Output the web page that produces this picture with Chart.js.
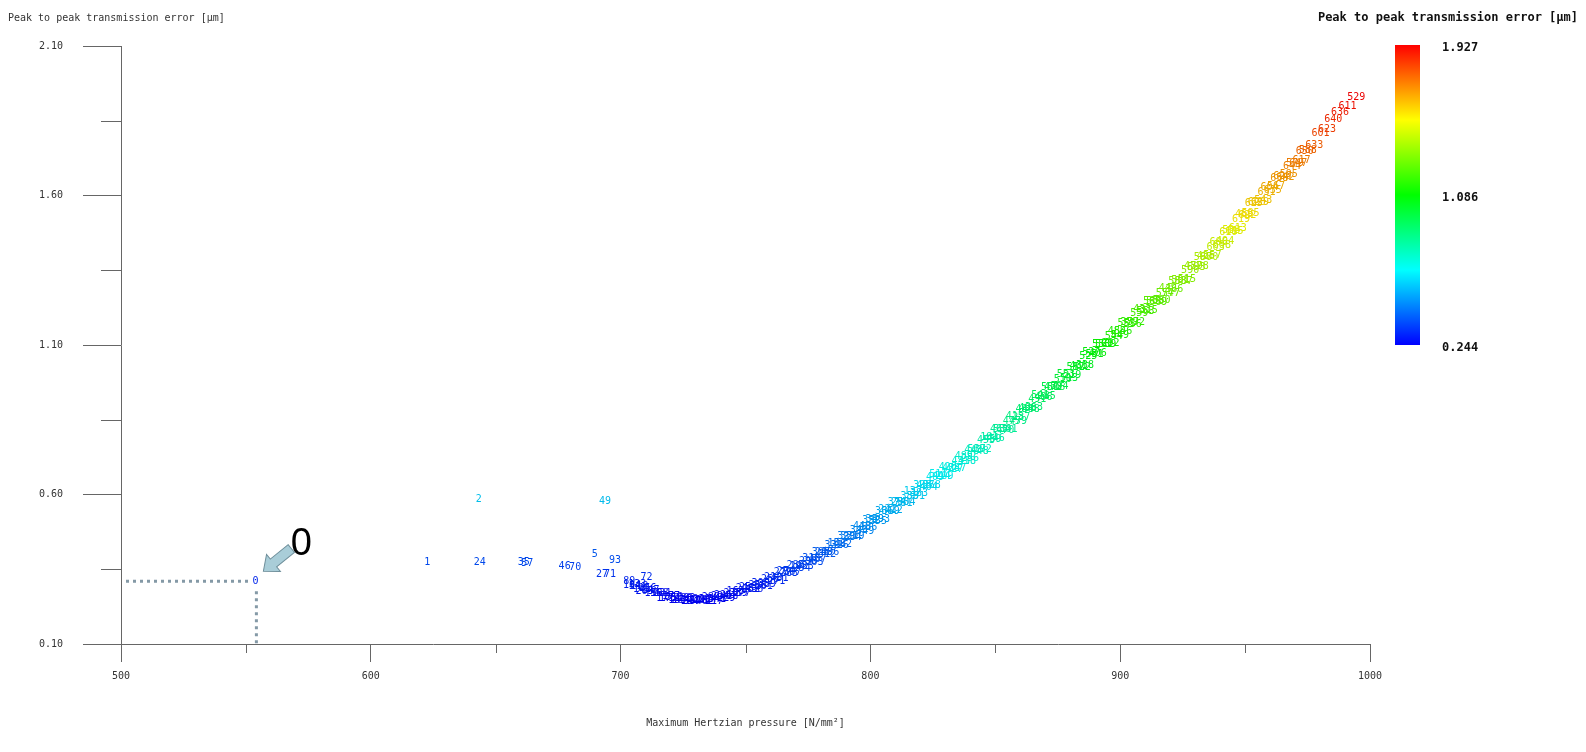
<!DOCTYPE html>
<html>
<head>
<meta charset="utf-8">
<script src="https://cdn.jsdelivr.net/npm/chart.js@4.4.1/dist/chart.umd.min.js"></script>
<style>
  body { margin: 0; background: #fff; }
  #wrap { width: 1586px; height: 752px; position: relative; }
</style>
</head>
<body>
<div id="wrap"><canvas id="te-chart"></canvas></div>
<script>
// ------- data -------
// scattered design points on the left
const looseIds = ["0", "1", "2", "24", "35", "57", "46", "70", "5", "93", "27", "71", "49", "72"];
const loosePressure = [553.8, 622.6, 643.2, 643.6, 661.2, 662.6, 677.6, 681.8, 689.7, 697.8, 692.6, 695.8, 693.8, 710.4];
const looseError = [0.310, 0.374, 0.584, 0.374, 0.372, 0.371, 0.358, 0.356, 0.399, 0.378, 0.334, 0.333, 0.577, 0.322];

// dense band of design points along the curve
const bandIds = ["89", "54", "118", "203", "147", "96", "231", "175", "310", "264", "192", "357", "128", "402", "289", "341",
    "226", "418", "163", "377", "250", "436", "305", "389", "212", "451", "274", "367", "198", "423", "318",
    "467", "243", "396", "152", "482", "331", "279", "440", "186", "359", "493", "222", "412", "296", "504",
    "137", "383", "457", "268", "511", "209", "428", "347", "489", "256", "519", "372", "181", "446", "534",
    "301", "415", "237", "498", "363", "541", "285", "472", "394", "553", "219", "461", "338", "527", "406",
    "561", "292", "485", "546", "379", "572", "433", "315", "508", "580", "449", "366", "591", "515", "477",
    "598", "425", "557", "606", "494", "538", "613", "469", "585", "620", "543", "604", "567", "626", "595",
    "579", "617", "588", "633", "601", "623", "640", "636", "611", "529"];
const bandPressure = [703.5, 705.8, 707.5, 709.6, 712.0, 714.3, 716.8, 719.0, 721.5, 723.9, 726.4, 728.8, 731.2, 733.7, 736.1, 738.6,
    741.0, 743.5, 746.0, 748.4, 751.0, 753.5, 756.0, 758.6, 761.0, 763.6, 766.1, 768.7, 771.2, 773.7, 776.3,
    778.8, 781.3, 783.9, 786.4, 789.0, 791.5, 794.0, 796.6, 799.1, 801.7, 804.2, 806.8, 809.3, 811.9, 814.4,
    817.0, 819.5, 822.1, 824.6, 827.2, 829.7, 832.3, 834.8, 837.4, 839.9, 842.5, 845.0, 847.6, 850.2, 852.7,
    855.3, 857.8, 860.4, 862.9, 865.5, 868.0, 870.6, 873.1, 875.7, 878.2, 880.8, 883.3, 885.9, 888.4, 891.0,
    893.5, 896.1, 898.6, 901.2, 903.7, 906.3, 908.8, 911.4, 913.9, 916.5, 919.0, 921.6, 924.1, 926.7, 929.2,
    931.8, 934.3, 936.9, 939.4, 942.0, 944.5, 947.1, 949.6, 952.2, 954.7, 957.3, 959.8, 962.4, 964.9, 967.5,
    970.0, 972.6, 975.1, 977.7, 980.2, 982.8, 985.3, 988.0, 991.0, 994.5];
const bandError = [0.309, 0.294, 0.292, 0.275, 0.280, 0.268, 0.270, 0.252, 0.257, 0.246, 0.252, 0.244, 0.247, 0.244, 0.255, 0.248,
    0.262, 0.258, 0.275, 0.270, 0.288, 0.284, 0.301, 0.298, 0.322, 0.320, 0.344, 0.339, 0.360, 0.358, 0.386,
    0.384, 0.406, 0.405, 0.437, 0.434, 0.459, 0.460, 0.492, 0.490, 0.516, 0.516, 0.551, 0.548, 0.573, 0.572,
    0.609, 0.605, 0.631, 0.630, 0.668, 0.661, 0.688, 0.687, 0.726, 0.721, 0.751, 0.751, 0.792, 0.788, 0.817,
    0.819, 0.861, 0.857, 0.888, 0.890, 0.931, 0.928, 0.959, 0.960, 1.002, 0.999, 1.030, 1.032, 1.074, 1.072,
    1.103, 1.105, 1.147, 1.144, 1.175, 1.177, 1.219, 1.216, 1.246, 1.248, 1.289, 1.285, 1.317, 1.321, 1.364,
    1.362, 1.395, 1.399, 1.444, 1.446, 1.482, 1.489, 1.537, 1.540, 1.576, 1.584, 1.627, 1.630, 1.664, 1.670,
    1.708, 1.716, 1.752, 1.766, 1.806, 1.822, 1.855, 1.878, 1.898, 1.927];

// more points filling the band (they overlap in the picture)
const fillIds = ["104", "133", "141", "156", "159", "168", "171", "177", "183", "188",
    "194", "201", "206", "214", "217", "224", "229", "233", "239", "246",
    "252", "258", "261", "266", "271", "277", "283", "287", "294", "298",
    "303", "308", "312", "321", "326", "329", "334", "343", "349", "352",
    "355", "361", "369", "374", "381", "386", "391", "398", "404", "409",
    "414", "420", "427", "431", "438", "443", "448", "453", "459", "463",
    "470", "475", "479", "484", "488", "491", "496", "501", "506", "510",
    "513", "517", "522", "525", "531", "536", "539", "544", "549", "551",
    "556", "559", "563", "565", "569", "574", "577", "583", "587", "590",
    "593", "597", "600", "603", "608", "610", "615", "619", "622", "625",
    "629", "631", "635", "638", "642", "644", "647", "650"];
const fillPressure = [704.6, 706.7, 708.6, 710.8, 713.2, 715.6, 717.9, 720.2, 722.7, 725.2,
    727.6, 730.0, 732.5, 734.9, 737.4, 739.8, 742.3, 744.8, 747.2, 749.7,
    752.3, 754.8, 757.3, 759.8, 762.3, 764.9, 767.4, 770.0, 772.5, 775.0,
    777.6, 780.1, 782.6, 785.2, 787.7, 790.3, 792.8, 795.3, 797.9, 800.4,
    803.0, 805.5, 808.1, 810.6, 813.2, 815.7, 818.3, 820.8, 823.4, 825.9,
    828.5, 831.0, 833.6, 836.1, 838.7, 841.2, 843.8, 846.3, 848.9, 851.5,
    854.0, 856.6, 859.1, 861.7, 864.2, 866.8, 869.3, 871.9, 874.4, 877.0,
    879.5, 882.1, 884.6, 887.2, 889.7, 892.3, 894.8, 897.4, 899.9, 902.5,
    905.0, 907.6, 910.1, 912.7, 915.2, 917.8, 920.3, 922.9, 925.4, 928.0,
    930.5, 933.1, 935.6, 938.2, 940.7, 943.3, 945.8, 948.4, 950.9, 953.5,
    956.0, 958.6, 961.1, 963.7, 966.2, 968.8, 971.3, 973.9];
const fillError = [0.296, 0.299, 0.283, 0.286, 0.269, 0.268, 0.253, 0.260, 0.245, 0.252,
    0.244, 0.250, 0.246, 0.249, 0.244, 0.260, 0.254, 0.270, 0.269, 0.285,
    0.281, 0.296, 0.294, 0.316, 0.310, 0.338, 0.336, 0.363, 0.354, 0.376,
    0.372, 0.405, 0.398, 0.429, 0.430, 0.460, 0.455, 0.480, 0.478, 0.514,
    0.509, 0.542, 0.544, 0.574, 0.569, 0.595, 0.594, 0.629, 0.625, 0.657,
    0.659, 0.689, 0.685, 0.711, 0.710, 0.748, 0.745, 0.780, 0.785, 0.817,
    0.815, 0.844, 0.846, 0.884, 0.883, 0.919, 0.924, 0.958, 0.957, 0.985,
    0.987, 1.026, 1.025, 1.061, 1.068, 1.102, 1.101, 1.130, 1.132, 1.171,
    1.170, 1.206, 1.212, 1.246, 1.244, 1.273, 1.274, 1.313, 1.313, 1.351,
    1.358, 1.393, 1.394, 1.426, 1.432, 1.476, 1.480, 1.521, 1.533, 1.573,
    1.577, 1.611, 1.616, 1.658, 1.660, 1.698, 1.707, 1.747];

const xTicks = [500, 600, 700, 800, 900, 1000];
const yTicks = [0.10, 0.60, 1.10, 1.60, 2.10];
const xMinorTicks = [550, 650, 750, 850, 950];
const yMinorTicks = [0.35, 0.85, 1.35, 1.85];
const colorbarLabels = ["1.927", "1.086", "0.244"];
const errMin = 0.244;
const errMax = 1.927;

const monoFont = '"DejaVu Sans Mono", "Liberation Mono", monospace';

// blue -> cyan -> green -> yellow -> red
const errorColor = (v) => {
    let t = (v - errMin) / (errMax - errMin);
    t = Math.max(0, Math.min(1, t));
    return 'hsl(' + (240 * (1 - t)).toFixed(1) + ', 100%, 46%)';
};

const pointIds = looseIds.concat(fillIds, bandIds);
const pressure = loosePressure.concat(fillPressure, bandPressure);
const ptError = looseError.concat(fillError, bandError);
const points = pressure.map((p, i) => ({ x: p, y: ptError[i] }));

// point numbers drawn as text in place of markers
const pointLabels = {
    id: 'pointLabels',
    afterDatasetsDraw(chart) {
        const ctx = chart.ctx;
        const meta = chart.getDatasetMeta(0);
        ctx.save();
        ctx.font = '10px ' + monoFont;
        ctx.textAlign = 'center';
        ctx.textBaseline = 'middle';
        meta.data.forEach((el, i) => {
            ctx.fillStyle = errorColor(ptError[i]);
            ctx.fillText(pointIds[i], el.x, el.y);
        });
        ctx.restore();
    }
};

// minor ticks, titles, colour bar and the "0" marker
const decorations = {
    id: 'decorations',
    afterDraw(chart) {
        const ctx = chart.ctx;
        const xs = chart.scales.x;
        const ys = chart.scales.y;
        const area = chart.chartArea;
        ctx.save();

        ctx.strokeStyle = '#666';
        ctx.lineWidth = 1;
        ctx.beginPath();
        yMinorTicks.forEach(v => {
            const py = Math.round(ys.getPixelForValue(v)) + 0.5;
            ctx.moveTo(area.left - 20, py);
            ctx.lineTo(area.left, py);
        });
        xMinorTicks.forEach(v => {
            const px = Math.round(xs.getPixelForValue(v)) + 0.5;
            ctx.moveTo(px, area.bottom);
            ctx.lineTo(px, area.bottom + 9);
        });
        ctx.stroke();

        // titles
        ctx.fillStyle = '#333';
        ctx.font = '10px ' + monoFont;
        ctx.textAlign = 'left';
        ctx.textBaseline = 'middle';
        ctx.fillText('Peak to peak transmission error [\u03bcm]', 8, 18);
        ctx.textAlign = 'center';
        ctx.fillText('Maximum Hertzian pressure [N/mm\u00b2]', (area.left + area.right) / 2, 723);

        ctx.fillStyle = '#111';
        ctx.font = 'bold 12px ' + monoFont;
        ctx.textAlign = 'right';
        ctx.fillText('Peak to peak transmission error [\u03bcm]', 1578, 18);

        // colour bar
        const barX = area.right + 25;
        const barTop = 45;
        const barH = 300;
        const grad = ctx.createLinearGradient(0, barTop + barH, 0, barTop);
        for (let s = 0; s <= 8; s++) {
            const t = s / 8;
            grad.addColorStop(t, 'hsl(' + (240 * (1 - t)) + ', 100%, 50%)');
        }
        ctx.fillStyle = grad;
        ctx.fillRect(barX, barTop, 25, barH);
        ctx.fillStyle = '#111';
        ctx.textAlign = 'left';
        colorbarLabels.forEach((lab, i) => {
            ctx.fillText(lab, barX + 47, barTop + 3 + i * (barH / 2));
        });

        // dotted guide lines to point 0
        const p0 = chart.getDatasetMeta(0).data[0];
        ctx.strokeStyle = '#8499a6';
        ctx.lineWidth = 3;
        ctx.setLineDash([3, 4]);
        ctx.beginPath();
        ctx.moveTo(area.left + 5, p0.y);
        ctx.lineTo(p0.x - 7, p0.y);
        ctx.moveTo(p0.x + 1, p0.y + 10);
        ctx.lineTo(p0.x + 1, area.bottom);
        ctx.stroke();
        ctx.setLineDash([]);

        // arrow pointing at point 0
        const tipX = p0.x + 8, tipY = p0.y - 10;
        ctx.save();
        ctx.translate(tipX, tipY);
        ctx.rotate(-Math.PI / 4.6);
        ctx.beginPath();
        ctx.moveTo(0, 0);
        ctx.lineTo(13, -11);
        ctx.lineTo(13, -5);
        ctx.lineTo(36, -5);
        ctx.lineTo(36, 5);
        ctx.lineTo(13, 5);
        ctx.lineTo(13, 11);
        ctx.closePath();
        ctx.fillStyle = '#a9cdd8';
        ctx.fill();
        ctx.strokeStyle = '#6f8f9b';
        ctx.lineWidth = 1;
        ctx.stroke();
        ctx.restore();

        ctx.fillStyle = '#000';
        ctx.font = '38px "Liberation Sans", Arial, sans-serif';
        ctx.textAlign = 'center';
        ctx.fillText('0', p0.x + 46, p0.y - 37);

        ctx.restore();
    }
};

const teChart = new Chart(document.getElementById('te-chart'), {
    type: 'scatter',
    data: {
        datasets: [{
            data: points,
            pointRadius: 0,
            pointHoverRadius: 0,
            showLine: false
        }]
    },
    options: {
        responsive: true,
        maintainAspectRatio: false,
        animation: false,
        layout: {
            padding: { top: 46, right: 216, left: 0, bottom: 0 }
        },
        plugins: {
            legend: { display: false },
            tooltip: { enabled: false }
        },
        scales: {
            x: {
                type: 'linear',
                min: 500,
                max: 1000,
                afterBuildTicks: (scale) => { scale.ticks = xTicks.map(v => ({ value: v })); },
                afterFit: (scale) => { scale.height = 108; },
                grid: { drawOnChartArea: false, drawTicks: true, tickLength: 18, color: '#666' },
                border: { display: true, color: '#666' },
                ticks: {
                    padding: 8,
                    color: '#333',
                    font: { family: monoFont, size: 10 },
                    callback: (v) => String(v)
                }
            },
            y: {
                type: 'linear',
                min: 0.1,
                max: 2.1,
                afterBuildTicks: (scale) => { scale.ticks = yTicks.map(v => ({ value: v })); },
                afterFit: (scale) => { scale.width = 121; },
                grid: { drawOnChartArea: false, drawTicks: true, tickLength: 38, color: '#666' },
                border: { display: true, color: '#666' },
                ticks: {
                    padding: 20,
                    color: '#333',
                    font: { family: monoFont, size: 10 },
                    callback: (v) => Number(v).toFixed(2)
                }
            }
        }
    },
    plugins: [pointLabels, decorations]
});
</script>
</body>
</html>
